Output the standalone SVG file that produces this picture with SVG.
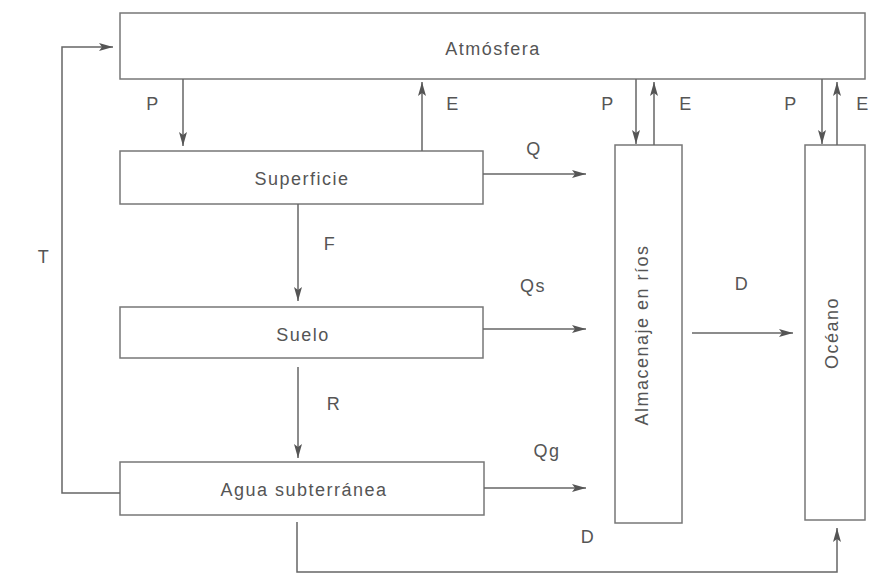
<svg xmlns="http://www.w3.org/2000/svg" width="870" height="579" viewBox="0 0 870 579">
<style>
.box{fill:#fff;stroke:#777;stroke-width:1.5}
.lbl{font-family:"Liberation Sans",Arial,sans-serif;font-size:18px;letter-spacing:1.5px;fill:#555;text-anchor:middle}
.ln{fill:none;stroke:#666;stroke-width:1.5}
</style>
<defs>
<marker id="ah" viewBox="0 0 14 8" refX="14" refY="4" markerWidth="14" markerHeight="8" markerUnits="userSpaceOnUse" orient="auto">
<path d="M0,0 L14,4 L0,8 L3,4 Z" fill="#555"/>
</marker>
</defs>
<rect width="870" height="579" fill="#fff"/>
<g id="atmosfera"><rect class="box" x="120" y="13" width="745" height="66"/><text class="lbl" x="493" y="55">Atmósfera</text></g>
<g id="superficie"><rect class="box" x="120" y="151" width="363" height="53"/><text class="lbl" x="302" y="185">Superficie</text></g>
<g id="suelo"><rect class="box" x="120" y="307" width="363" height="51"/><text class="lbl" x="303" y="341">Suelo</text></g>
<g id="agua"><rect class="box" x="120" y="462" width="364" height="53"/><text class="lbl" x="304" y="496">Agua subterránea</text></g>
<g id="rios"><rect class="box" x="615" y="145" width="67" height="378"/><text class="lbl" transform="translate(648,335) rotate(-90)">Almacenaje en ríos</text></g>
<g id="oceano"><rect class="box" x="805" y="145" width="60" height="375"/><text class="lbl" transform="translate(838,333) rotate(-90)">Océano</text></g>
<g id="connectors">
<path class="ln" d="M120,493 H62 V47 H113" marker-end="url(#ah)"/>
<path class="ln" d="M183,79 V146" marker-end="url(#ah)"/>
<path class="ln" d="M422,151 V82" marker-end="url(#ah)"/>
<path class="ln" d="M483,174 H586" marker-end="url(#ah)"/>
<path class="ln" d="M298,204 V301" marker-end="url(#ah)"/>
<path class="ln" d="M483,329 H586" marker-end="url(#ah)"/>
<path class="ln" d="M298,367 V458" marker-end="url(#ah)"/>
<path class="ln" d="M484,488 H586" marker-end="url(#ah)"/>
<path class="ln" d="M297,522 V572 H837 V528" marker-end="url(#ah)"/>
<path class="ln" d="M692,333 H793" marker-end="url(#ah)"/>
<path class="ln" d="M636,79 V144" marker-end="url(#ah)"/>
<path class="ln" d="M654,145 V82" marker-end="url(#ah)"/>
<path class="ln" d="M822,79 V144" marker-end="url(#ah)"/>
<path class="ln" d="M837,145 V82" marker-end="url(#ah)"/>
<text class="lbl" x="153" y="110">P</text>
<text class="lbl" x="453" y="110">E</text>
<text class="lbl" x="534" y="155">Q</text>
<text class="lbl" x="330" y="250">F</text>
<text class="lbl" x="533" y="292">Qs</text>
<text class="lbl" x="334" y="410">R</text>
<text class="lbl" x="547" y="457">Qg</text>
<text class="lbl" x="588" y="543">D</text>
<text class="lbl" x="742" y="290">D</text>
<text class="lbl" x="608" y="110">P</text>
<text class="lbl" x="686" y="110">E</text>
<text class="lbl" x="791" y="110">P</text>
<text class="lbl" x="863" y="110">E</text>
<text class="lbl" x="44" y="263">T</text>
</g>
</svg>
